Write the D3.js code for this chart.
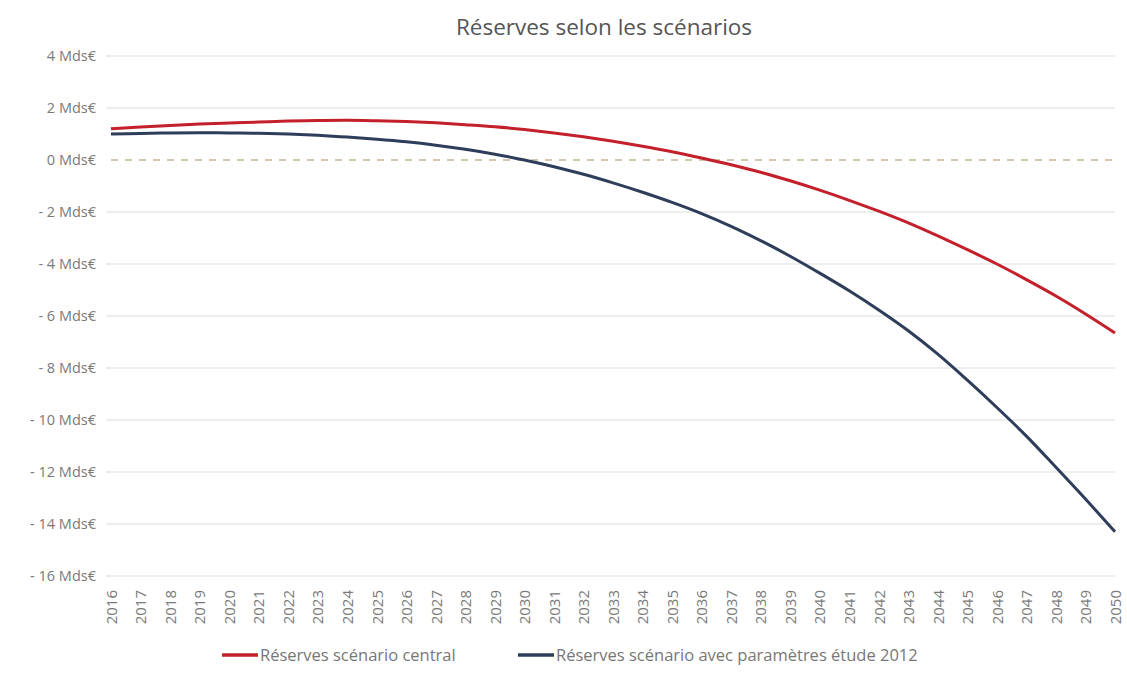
<!DOCTYPE html>
<html><head><meta charset="utf-8">
<script src="https://cdn.jsdelivr.net/npm/d3@7"></script>
<style>body{margin:0;background:#fff}svg{display:block}</style>
</head><body>
<svg id="c" width="1127" height="693"></svg>
<script>
const years = d3.range(2016, 2051).map(String);
const central = [1.2,1.27,1.33,1.38,1.42,1.46,1.5,1.52,1.53,1.51,1.48,1.43,1.36,1.28,1.17,1.04,0.89,0.72,0.53,0.32,0.08,-0.18,-0.47,-0.8,-1.16,-1.55,-1.97,-2.42,-2.92,-3.45,-4.0,-4.6,-5.23,-5.92,-6.65];
const etude2012 = [1.0,1.02,1.04,1.05,1.04,1.03,1.0,0.95,0.88,0.8,0.7,0.57,0.41,0.22,0.0,-0.26,-0.55,-0.88,-1.24,-1.63,-2.06,-2.55,-3.1,-3.7,-4.35,-5.03,-5.77,-6.57,-7.47,-8.47,-9.52,-10.62,-11.82,-13.04,-14.3];
const yTicks = [4,2,0,-2,-4,-6,-8,-10,-12,-14,-16];
const seriesNames = ["Réserves scénario central","Réserves scénario avec paramètres étude 2012"];
const colors = ["#c4202b","#2e3d5a"];

const svg = d3.select("#c");
const font = "'Open Sans', sans-serif";
const x = d3.scalePoint().domain(years).range([111, 1115]);
const y = d3.scaleLinear().domain([-16, 4]).range([576, 56]);

// gridlines
svg.append("g").selectAll("line").data(yTicks.filter(d=>d!==0)).join("line")
  .attr("x1",106).attr("x2",1115).attr("y1",d=>y(d)).attr("y2",d=>y(d))
  .attr("stroke","#e8e8e8").attr("stroke-width",1.5);
// zero dashed
svg.append("line").attr("x1",111).attr("x2",1115).attr("y1",y(0)).attr("y2",y(0))
  .attr("stroke","#d2c8ad").attr("stroke-width",2).attr("stroke-dasharray","7,7");

// y axis
const ya = d3.axisLeft(y).tickValues(yTicks).tickSize(0).tickPadding(0)
  .tickFormat(d=> (d<0? "- " + Math.abs(d) : d) + " Mds€");
const yg = svg.append("g").attr("transform","translate(96,0)").call(ya);
yg.select(".domain").remove();
yg.selectAll("text").attr("font-family",font).attr("font-size",14.5).attr("fill","#7a7a7a").attr("dy","0.32em");

// x axis
const xa = d3.axisBottom(x).tickSize(0).tickPadding(0);
const xg = svg.append("g").attr("transform","translate(0,588)").call(xa);
xg.select(".domain").remove();
xg.selectAll("text").attr("font-family",font).attr("font-size",15).attr("fill","#7a7a7a")
  .attr("text-anchor","end").attr("transform","rotate(-90)").attr("dy","0.35em").attr("x",-2).attr("y",0);

// lines
const line = d3.line().x((d,i)=>x(years[i])).y(d=>y(d)).curve(d3.curveCatmullRom.alpha(0.5));
[central, etude2012].forEach((s,k)=>{
  svg.append("path").datum(s).attr("d",line).attr("fill","none")
    .attr("stroke",colors[k]).attr("stroke-width",3);
});

// title
svg.append("text").attr("x",604).attr("y",35).attr("text-anchor","middle")
  .attr("font-family",font).attr("font-size",22.5).attr("fill","#555").text("Réserves selon les scénarios");

// legend
const leg = [{x:222},{x:518}];
leg.forEach((l,k)=>{
  svg.append("line").attr("x1",l.x).attr("x2",l.x+36).attr("y1",655).attr("y2",655)
    .attr("stroke",colors[k]).attr("stroke-width",3.5);
  svg.append("text").attr("x",l.x+38).attr("y",661).attr("font-family",font).attr("font-size",16.5)
    .attr("fill","#777").text(seriesNames[k]);
});
</script>
</body></html>
